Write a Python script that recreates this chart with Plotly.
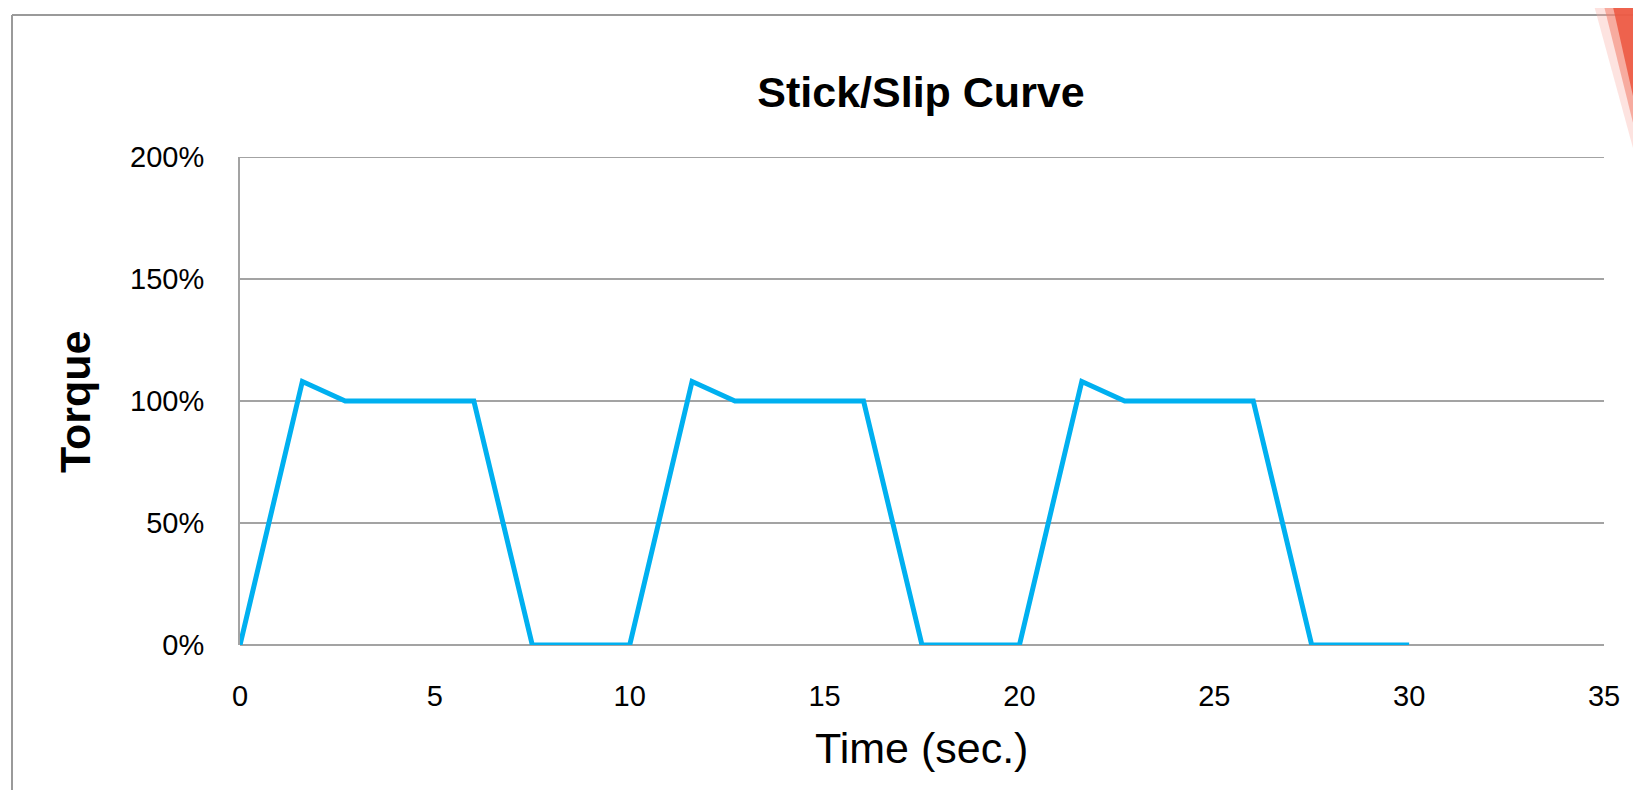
import plotly.graph_objects as go

# ---- data ----
time_sec = [0, 1.6, 2.7, 6.0, 7.5, 10.0, 11.6, 12.7, 16.0, 17.5, 20.0, 21.6, 22.7, 26.0, 27.5, 30.0]
torque = [0, 1.08, 1.00, 1.00, 0, 0, 1.08, 1.00, 1.00, 0, 0, 1.08, 1.00, 1.00, 0, 0]
x_ticks = [0, 5, 10, 15, 20, 25, 30, 35]
y_ticks = [0, 0.5, 1.0, 1.5, 2.0]

# page has an 8px body margin, so the figure is 8px smaller than the window
W, H = 1633, 782
L, R, T, B = 232, 37, 149, 145
PW, PH = W - L - R, H - T - B

def px(x):
    return (x - L) / PW

def py(y):
    return (H - B - y) / PH

FONT = "Liberation Sans, Arial, sans-serif"
GRID = "#a3a3a3"

fig = go.Figure()
fig.add_trace(go.Scatter(
    x=time_sec, y=torque, mode="lines",
    line=dict(color="#00B0F0", width=5),
    hoverinfo="skip", showlegend=False,
))

shapes = [
    # top gridline (200%)
    dict(type="line", xref="paper", yref="y", x0=0, x1=1, y0=y_ticks[-1], y1=y_ticks[-1],
         line=dict(color=GRID, width=2), layer="below"),
    # outer frame (top and left edges)
    dict(type="line", xref="paper", yref="paper", x0=px(4), y0=py(7), x1=px(1700), y1=py(7),
         line=dict(color="#9a9a9a", width=2)),
    dict(type="line", xref="paper", yref="paper", x0=px(4), y0=py(7), x1=px(4), y1=py(800),
         line=dict(color="#9a9a9a", width=2)),
    # decorative red wedge in top-right corner
    dict(type="path", xref="paper", yref="paper",
         path=f"M {px(1584)},{py(-10)} L {px(1640)},{py(-10)} L {px(1640)},{py(195)} Z",
         fillcolor="rgba(248,175,165,0.35)", line=dict(width=0), layer="above"),
    dict(type="path", xref="paper", yref="paper",
         path=f"M {px(1594)},{py(-10)} L {px(1640)},{py(-10)} L {px(1640)},{py(175)} Z",
         fillcolor="rgba(242,125,105,0.55)", line=dict(width=0), layer="above"),
    dict(type="path", xref="paper", yref="paper",
         path=f"M {px(1603)},{py(-10)} L {px(1640)},{py(-10)} L {px(1640)},{py(155)} Z",
         fillcolor="rgba(236,85,62,0.85)", line=dict(width=0), layer="above"),
]

annotations = [
    dict(text="Time (sec.)", xref="paper", yref="paper", x=px(913), y=py(740),
         xanchor="center", yanchor="middle", showarrow=False,
         font=dict(size=43, family=FONT, color="black")),
    dict(text="<b>Torque</b>", xref="paper", yref="paper", x=px(67), y=py(394),
         xanchor="center", yanchor="middle", showarrow=False, textangle=-90,
         font=dict(size=43, family=FONT, color="black")),
]

fig.update_layout(
    width=W, height=H,
    margin=dict(l=L, r=R, t=T, b=B, autoexpand=False),
    paper_bgcolor="white", plot_bgcolor="white",
    font=dict(family=FONT, color="black"),
    title=dict(text="<b>Stick/Slip Curve</b>", x=px(913), xref="paper", xanchor="center",
               y=1 - 84 / H, yref="container", yanchor="middle",
               font=dict(size=43, family=FONT, color="black")),
    xaxis=dict(range=[0, 35], tickvals=x_ticks, ticktext=[str(v) for v in x_ticks],
               showgrid=False, zeroline=False, showline=False, ticks="",
               tickfont=dict(size=29, family=FONT), ticklabelstandoff=31),
    yaxis=dict(range=[0, 2], tickvals=y_ticks, tickformat=".0%",
               showgrid=True, gridcolor=GRID, gridwidth=2,
               zeroline=True, zerolinecolor=GRID, zerolinewidth=2,
               showline=True, linecolor=GRID, linewidth=2, ticks="",
               tickfont=dict(size=29, family=FONT), ticklabelstandoff=28),
    shapes=shapes,
    annotations=annotations,
)

fig.write_html("out.html")
